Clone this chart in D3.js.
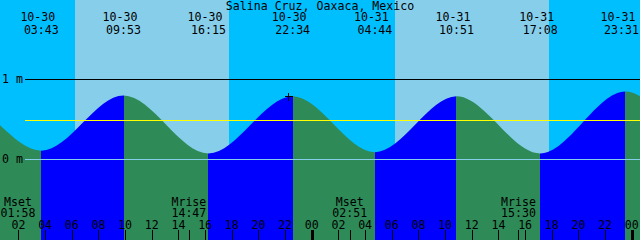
<!DOCTYPE html>
<html lang="en">
<head>
<meta charset="UTF-8">
<title>Salina Cruz, Oaxaca, Mexico</title>
<style>
  body { margin: 0; background: white; }
  svg { display: block; }
  text { font-family: "DejaVu Sans Mono", monospace; font-size: 11.6px; fill: black; }
  .crisp { shape-rendering: crispEdges; }
</style>
</head>
<body>
<svg width="640" height="240" id="chart"></svg>
<script src="https://cdn.jsdelivr.net/npm/d3@7"></script>
<script>
const parse = d3.utcParse("%Y-%m-%d %H:%M");

const title = "Salina Cruz, Oaxaca, Mexico";
const windowStart = "2024-10-30 00:37";
const windowEnd = "2024-11-01 00:37";

// highs and lows shown on the chart
const tideTimes = ["2024-10-30 03:43", "2024-10-30 09:53", "2024-10-30 16:15", "2024-10-30 22:34",
                   "2024-10-31 04:44", "2024-10-31 10:51", "2024-10-31 17:08", "2024-10-31 23:31"];
const tideHeights = [0.11, 0.80, 0.075, 0.79, 0.09, 0.79, 0.075, 0.85];
// extremes outside the window, so the curve runs off both edges smoothly
const prevTimes = ["2024-10-29 15:05", "2024-10-29 21:25"];
const prevHeights = [0.08, 0.76];
const nextTimes = ["2024-11-01 05:45", "2024-11-01 12:05"];
const nextHeights = [0.12, 0.80];

// daylight (sunrise, sunset)
const sunrise = ["2024-10-30 06:15", "2024-10-31 06:15"];
const sunset = ["2024-10-30 17:49", "2024-10-31 17:49"];

// moon events along the bottom
const moonLabels = ["Mset", "Mrise", "Mset", "Mrise"];
const moonTimes = ["2024-10-30 01:58", "2024-10-30 14:47", "2024-10-31 02:51", "2024-10-31 15:30"];

const depthLines = [1, 0];
const depthColors = ["black", "#87ceeb"];
const meanLevel = 0.49;
const nowTime = "2024-10-30 22:15";
const nowHeight = 0.79;

const W = 640, H = 240;
const svg = d3.select("#chart");

const x = d3.scaleUtc()
    .domain([parse(windowStart), parse(windowEnd)])
    .range([0, W]);
const y = d3.scaleLinear()
    .domain([0, 1])
    .range([159.5, 79.5]);

// sky: night everywhere, day on top
svg.append("rect").attr("class", "crisp")
    .attr("x", 0).attr("y", 0).attr("width", W).attr("height", H)
    .attr("fill", "#00bfff");
sunrise.forEach((s, i) => {
    svg.append("rect").attr("class", "crisp")
        .attr("x", x(parse(s)))
        .attr("y", 0)
        .attr("width", x(parse(sunset[i])) - x(parse(s)))
        .attr("height", H)
        .attr("fill", "#87ceeb");
});

// tide curve through all extremes
const allTimes = [...prevTimes, ...tideTimes, ...nextTimes];
const allHeights = [...prevHeights, ...tideHeights, ...nextHeights];
const tides = allTimes.map((t, i) => ({ t: parse(t), h: allHeights[i] }));

const area = d3.area()
    .x(d => x(d.t))
    .y0(H)
    .y1(d => y(d.h))
    .curve(d3.curveMonotoneX);

svg.append("clipPath").attr("id", "water")
    .append("path").attr("d", area(tides));

// rising water blue, falling water green
const water = svg.append("g").attr("clip-path", "url(#water)");
for (let i = 0; i < tides.length - 1; i++) {
    const rising = tides[i + 1].h > tides[i].h;
    water.append("rect").attr("class", "crisp")
        .attr("x", x(tides[i].t))
        .attr("y", 0)
        .attr("width", x(tides[i + 1].t) - x(tides[i].t))
        .attr("height", H)
        .attr("fill", rising ? "#0000ff" : "#2e8b57");
}

// depth lines and labels
depthLines.forEach((d, i) => {
    svg.append("line").attr("class", "crisp")
        .attr("x1", 25).attr("x2", W)
        .attr("y1", y(d)).attr("y2", y(d))
        .attr("stroke", depthColors[i]);
    svg.append("text")
        .attr("x", 2).attr("y", y(d) + 3.5)
        .text(d + " m");
});
svg.append("line").attr("class", "crisp")
    .attr("x1", 25).attr("x2", W)
    .attr("y1", y(meanLevel)).attr("y2", y(meanLevel))
    .attr("stroke", "#ffff00");

// "now" mark
const nx = Math.round(x(parse(nowTime))) + 0.5, ny = Math.round(y(nowHeight)) + 0.5;
svg.append("path").attr("class", "crisp")
    .attr("d", `M${nx - 4},${ny}H${nx + 4}M${nx},${ny - 4}V${ny + 4}`)
    .attr("stroke", "black");

// keeps a 5-char label inside the picture
const clampX = cx => Math.max(17.5, Math.min(W - 18.5, cx));

svg.append("text")
    .attr("x", W / 2).attr("y", 10)
    .attr("text-anchor", "middle")
    .text(title);

const fmtDate = d3.utcFormat("%m-%d");
const fmtTime = d3.utcFormat("%H:%M");
tideTimes.forEach(t => {
    const cx = clampX(x(parse(t)));
    svg.append("text")
        .attr("x", cx - 3.5).attr("y", 21)
        .attr("text-anchor", "middle")
        .text(fmtDate(parse(t)));
    svg.append("text")
        .attr("x", cx).attr("y", 34)
        .attr("text-anchor", "middle")
        .text(fmtTime(parse(t)));
});

// time axis
const ticks = x.ticks(d3.utcHour.every(2));
svg.selectAll(".tick")
    .data(ticks)
    .join("line")
    .attr("class", "crisp")
    .attr("x1", d => Math.round(x(d)) + 0.5)
    .attr("x2", d => Math.round(x(d)) + 0.5)
    .attr("y1", 230).attr("y2", H)
    .attr("stroke", "black")
    .attr("stroke-width", d => d.getUTCHours() === 0 ? 3 : 1);
svg.selectAll(".tickLabel")
    .data(ticks)
    .join("text")
    .attr("x", d => x(d))
    .attr("y", 229)
    .attr("text-anchor", "middle")
    .text(d3.utcFormat("%H"));

moonTimes.forEach((t, i) => {
    const mx = x(parse(t));
    svg.append("line").attr("class", "crisp")
        .attr("x1", Math.round(mx) + 0.5).attr("x2", Math.round(mx) + 0.5)
        .attr("y1", 230).attr("y2", H)
        .attr("stroke", "black");
    svg.append("text")
        .attr("x", clampX(mx)).attr("y", 206)
        .attr("text-anchor", "middle")
        .text(moonLabels[i]);
    svg.append("text")
        .attr("x", clampX(mx)).attr("y", 217)
        .attr("text-anchor", "middle")
        .text(fmtTime(parse(t)));
});
</script>
</body>
</html>
